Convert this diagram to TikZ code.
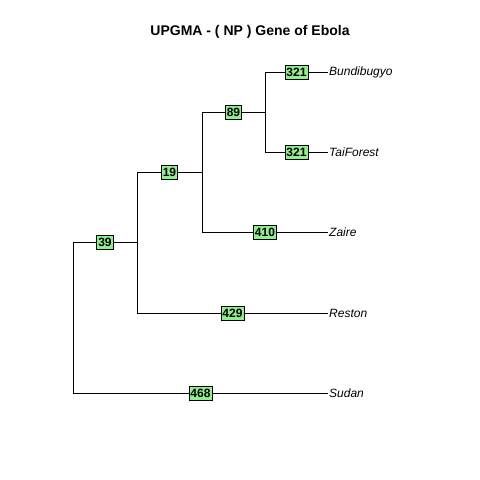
\documentclass[tikz,border=0pt]{standalone}
\usepackage{fontspec}
\setmainfont{Liberation Sans}
\definecolor{boxgreen}{HTML}{90EE90}

\begin{document}
\begin{tikzpicture}[x=1pt,y=-1pt,
    branch/.style={line width=0.8pt},
    support/.style={draw,line width=0.8pt,fill=boxgreen,inner xsep=1.5pt,inner ysep=0pt,
        minimum height=14pt,text height=8.6pt,text depth=0pt,
        font=\fontsize{12}{14}\selectfont\bfseries},
    taxon/.style={anchor=west,inner sep=1pt,font=\fontsize{12}{14}\selectfont\itshape}
]
    \useasboundingbox (0,0) rectangle (480,480);
    \node[font=\fontsize{14}{16}\selectfont\bfseries] (title) at (250,32) {UPGMA - ( NP ) Gene of Ebola};

    % internal nodes
    \coordinate (r1) at (73,242);   \coordinate (r2) at (73,393);
    \coordinate (a1) at (137,172);  \coordinate (a0) at (137,242);  \coordinate (a2) at (137,313);
    \coordinate (b1) at (202,112);  \coordinate (b0) at (202,172);  \coordinate (b2) at (202,232);
    \coordinate (c1) at (265,72);   \coordinate (c0) at (265,112);  \coordinate (c2) at (265,152);

    % tips
    \node[taxon] (bundi) at (328,72)  {Bundibugyo};
    \node[taxon] (tai)   at (328,152) {TaiForest};
    \node[taxon] (zaire) at (328,232) {Zaire};
    \node[taxon] (reston) at (328,313) {Reston};
    \node[taxon] (sudan) at (328,393) {Sudan};

    % verticals
    \draw[branch] (r1) -- (r2);
    \draw[branch] (a1) -- (a2);
    \draw[branch] (b1) -- (b2);
    \draw[branch] (c1) -- (c2);

    % horizontals with support values
    \draw[branch] (r1) -- node[support] {39} (a0);
    \draw[branch] (r2) -- node[support] {468} (sudan.west);
    \draw[branch] (a1) -- node[support] {19} (b0);
    \draw[branch] (a2) -- node[support] {429} (reston.west);
    \draw[branch] (b1) -- node[support] {89} (c0);
    \draw[branch] (b2) -- node[support] {410} (zaire.west);
    \draw[branch] (c1) -- node[support] {321} (bundi.west);
    \draw[branch] (c2) -- node[support] {321} (tai.west);
\end{tikzpicture}
\end{document}
